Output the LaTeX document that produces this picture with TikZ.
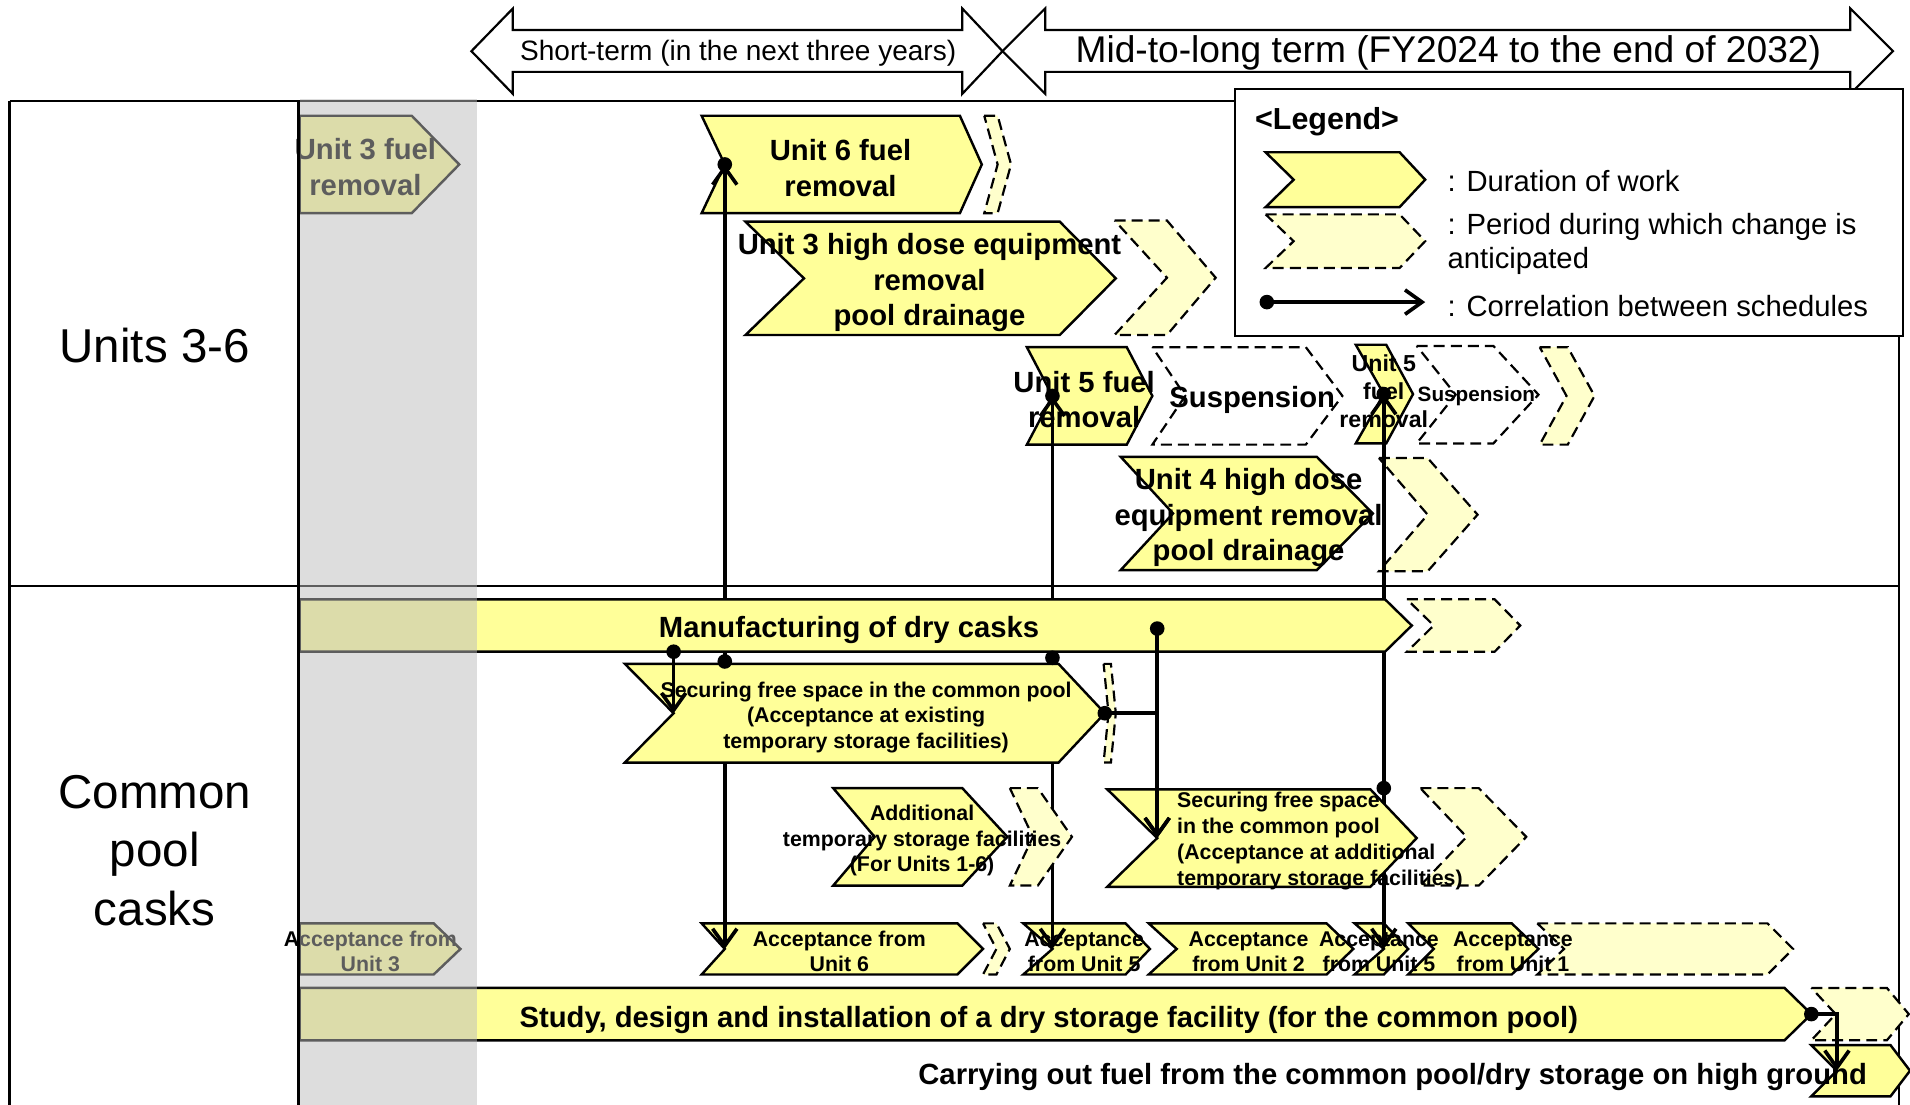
\documentclass[tikz,border=0pt]{standalone}
\usepackage{fontspec}
\setmainfont{Liberation Sans}
\usetikzlibrary{arrows.meta}
\definecolor{yel}{HTML}{FFFF99}
\definecolor{lyel}{HTML}{FFFFCC}
\definecolor{bandgray}{HTML}{BBBBBB}
% #1 style, #2 name, #3 xl, #4 xr, #5 ytop, #6 ybot, #7 left notch depth, #8 right tip depth
\newcommand{\mychev}[8][]{%
  \path[#1] (#3,#5) -- (#4,#5) -- ({#4+#8},{(#5+#6)/2}) -- (#4,#6) -- (#3,#6) -- ({#3+#7},{(#5+#6)/2}) -- cycle;
  \coordinate (#2-n) at ({#3+#7},{(#5+#6)/2});
  \coordinate (#2-t) at ({#4+#8},{(#5+#6)/2});
}
\begin{document}
\begin{tikzpicture}[x=0.5pt,y=-0.5pt,
  work/.style={draw=black,fill=yel,line width=1pt},
  chg/.style={draw=black,fill=lyel,line width=0.9pt,dash pattern=on 4.5pt off 2.5pt},
  susp/.style={draw=black,fill=white,line width=0.9pt,dash pattern=on 4.5pt off 2.5pt},
  conn/.style={line width=1.5pt,-{Straight Barb[length=7pt,width=10pt]}},
  frameline/.style={line width=1.1pt},
  tarrow/.style={draw=black,fill=white,line width=0.9pt},
  lblbig/.style={font=\bfseries\fontsize{12}{14.5}\selectfont,align=center,inner sep=0pt},
  lblsmall/.style={font=\bfseries\fontsize{8.75}{10.6}\selectfont,align=center,inner sep=0pt},
  lblacc/.style={font=\bfseries\fontsize{8.75}{10.25}\selectfont,align=center,inner sep=0pt},
  lblmid/.style={font=\bfseries\fontsize{9.5}{11.5}\selectfont,align=center,inner sep=0pt},
  lblsus/.style={font=\bfseries\fontsize{8.5}{10}\selectfont,align=center,inner sep=0pt},
  legtext/.style={anchor=west,font=\fontsize{12}{14}\selectfont,inner sep=0pt},
  seclbl/.style={font=\fontsize{19.5}{24}\selectfont,align=center,inner sep=0pt}]
\useasboundingbox (0,0) rectangle (1568,907);
\clip (0,0) rectangle (1568,907);

% ---- frame
\draw[frameline] (8,83) -- (1559,83);
\draw[frameline] (8,83) -- (8,930);
\draw[frameline] (245,83) -- (245,930);
\draw[frameline] (1559,83) -- (1559,930);
\draw[frameline] (8,481) -- (1559,481);

\node[seclbl] (sec1) at (127,284) {Units 3-6};
\node[seclbl] (sec2) at (127,698) {Common\\pool\\casks};

% ---- top period arrows
\draw[tarrow] (387,42) -- (421,7) -- (421,24.6) -- (790,24.6) -- (790,7) -- (823,42) -- (790,77) -- (790,59) -- (421,59) -- (421,77) -- cycle;
\draw[tarrow] (823,42) -- (858,7) -- (858,24.6) -- (1519,24.6) -- (1519,7) -- (1554,42) -- (1519,77) -- (1519,59) -- (858,59) -- (858,77) -- cycle;
\node[font=\fontsize{11.5}{14}\selectfont,inner sep=0pt] (stt) at (606,44) {Short-term (in the next three years)};
\node[font=\fontsize{15.25}{18}\selectfont,inner sep=0pt] (mtt) at (1189,43.5) {Mid-to-long term (FY2024 to the end of 2032)};

% ---- legend
\draw[line width=1pt,fill=white] (1014,73) rectangle (1562,276);
\node[anchor=west,font=\bfseries\fontsize{12.5}{15}\selectfont,inner sep=0pt] (lg) at (1030,100) {<Legend>};
\mychev[work]{lg1}{1039}{1149}{125}{170}{23}{21}
\mychev[chg]{lg2}{1039}{1149}{176}{220}{23}{21}
\node[legtext] (lgt1) at (1188,149) {: Duration of work};
\node[legtext,align=left] (lgt2) at (1188,200) {: Period during which change is\\anticipated};
\coordinate (lga) at (1040,248);
\coordinate (lgb) at (1170,248);
\draw[conn] (lga) -- (lgb);
\fill (lga) circle (3pt);
\node[legtext] (lgt3) at (1188,251) {: Correlation between schedules};

% ---- Units 3-6 shapes
\mychev[work]{u3f}{246}{338}{95}{175}{0}{39}
\mychev[work]{u6}{576}{788}{95}{175}{19}{18}
\mychev[chg]{u6d}{808}{819}{95}{175}{11}{11}
\mychev[work]{u3h}{612}{870}{182}{275}{48}{46}
\mychev[chg]{u3hd}{915}{958}{181}{275}{43}{40}
\mychev[work]{u5}{843}{925}{285}{365}{21}{21}
\mychev[susp]{s1}{946}{1072}{285}{365}{27}{30}
\mychev[work]{u5b}{1113}{1138}{283}{364}{23}{22}
\mychev[susp]{s2}{1163}{1226}{284}{364}{32}{37}
\mychev[chg]{s2d}{1264}{1287}{285}{365}{22}{22}
\mychev[work]{u4h}{920}{1081}{375}{468}{43}{46}
\mychev[chg]{u4hd}{1132}{1172}{376}{469}{40}{41}

\node[lblbig] (tu3f) at (300,137) {Unit 3 fuel\\removal};
\node[lblbig] (tu6) at (690,138) {Unit 6 fuel\\removal};
\node[lblbig] (tu3h) at (763,232) {Unit 3 high dose equipment\\removal\\pool drainage};
\node[lblbig] (tu5) at (890,328) {Unit 5 fuel\\removal};
\node[lblbig] (ts1) at (1028,328) {Suspension};
\node[lblmid] (tu5b) at (1136,321) {Unit 5\\fuel\\removal};
\node[lblsus] (ts2) at (1212,325) {Suspension};
\node[lblbig] (tu4h) at (1025,425) {Unit 4 high dose\\equipment removal\\pool drainage};

% ---- acceptance row
\mychev[work]{a3}{246}{356}{758}{800}{0}{22}
\mychev[work]{a6}{576}{786}{758}{800}{19}{21}
\mychev[chg]{a6d}{807}{818}{758}{800}{11}{11}
\mychev[work]{a5}{840}{924}{758}{800}{24}{20}
\mychev[work]{a2}{943}{1089}{758}{800}{23}{22}
\mychev[work]{a5b}{1112}{1136}{758}{800}{24}{20}
\mychev[work]{a1}{1156}{1241}{758}{800}{21}{22}
\mychev[chg]{a1d}{1262}{1451}{758}{800}{22}{21}

\node[lblacc] (ta3) at (304,781) {Acceptance from\\Unit 3};
\node[lblacc] (ta6) at (689,781) {Acceptance from\\Unit 6};
\node[lblacc] (ta5) at (890,781) {Acceptance\\from Unit 5};
\node[lblacc] (ta2) at (1025,781) {Acceptance\\from Unit 2};
\node[lblacc] (ta5b) at (1132,781) {Acceptance\\from Unit 5};
\node[lblacc] (ta1) at (1242,781) {Acceptance\\from Unit 1};

% ---- long correlation connectors (behind the common-pool bars)
\coordinate (c1s) at (595,543);
\coordinate (c3s) at (864,540);
\coordinate (c5s) at (1136,647);
\draw[conn] (c1s) -- (u6-n);
\draw[conn] (u6-n) -- (a6-n);
\draw[conn] (c3s) -- (u5-n);
\draw[conn] (u5-n) -- (a5-n);
\draw[conn] (c5s) -- (u5b-n);
\draw[conn] (u5b-n) -- (a5b-n);

% ---- common pool bars
\mychev[work]{mf}{246}{1137}{492}{535}{0}{22}
\mychev[chg]{mfd}{1155}{1227}{492}{535}{22}{21}
\mychev[work]{sx}{513}{869}{545}{626}{40}{38}
\mychev[chg]{sxd}{906}{912}{545}{626}{4}{4}
\mychev[work]{ad}{684}{790}{647}{727}{34}{37}
\mychev[chg]{add}{829}{852}{647}{727}{19}{28}
\mychev[work]{sa}{909}{1125}{648}{728}{41}{38}
\mychev[chg]{sad}{1166}{1214}{647}{727}{38}{39}
\mychev[work]{st}{246}{1465}{811}{854}{0}{22}
\mychev[chg]{std}{1487}{1549}{811}{854}{20}{18}
\mychev[work]{cy}{1487}{1552}{858}{900}{21}{16}

\node[lblbig] (tmf) at (697,517) {Manufacturing of dry casks};
\node[lblsmall] (tsx) at (711,589) {Securing free space in the common pool\\(Acceptance at existing\\temporary storage facilities)};
\node[lblsmall] (tad) at (757,690) {Additional\\temporary storage facilities\\(For Units 1-6)};
\node[lblsmall,anchor=west,align=left] (tsa) at (966,690.5) {Securing free space\\in the common pool\\(Acceptance at additional\\temporary storage facilities)};
\node[lblbig] (tst) at (861,837) {Study, design and installation of a dry storage facility (for the common pool)};
\node[lblbig,anchor=east] (tcy) at (1533,884) {Carrying out fuel from the common pool/dry storage on high ground};

% ---- short correlation connectors
\coordinate (c7s) at (553,535);
\coordinate (c8s) at (950,516);
\draw[conn] (c7s) -- (sx-n);
\draw[conn] (c8s) -- (sa-n);
\draw[conn] (sx-t) -| (sa-n);
\draw[conn] (st-t) -| (cy-n);

% ---- start dots
\foreach \p in {c1s,u6-n,c3s,u5-n,c5s,u5b-n,c7s,c8s,sx-t,st-t}
  \fill (\p) circle (3pt);

% ---- shaded short-term past band
\fill[bandgray,opacity=0.5] (246,81) rectangle (391.5,910);
\end{tikzpicture}
\end{document}
